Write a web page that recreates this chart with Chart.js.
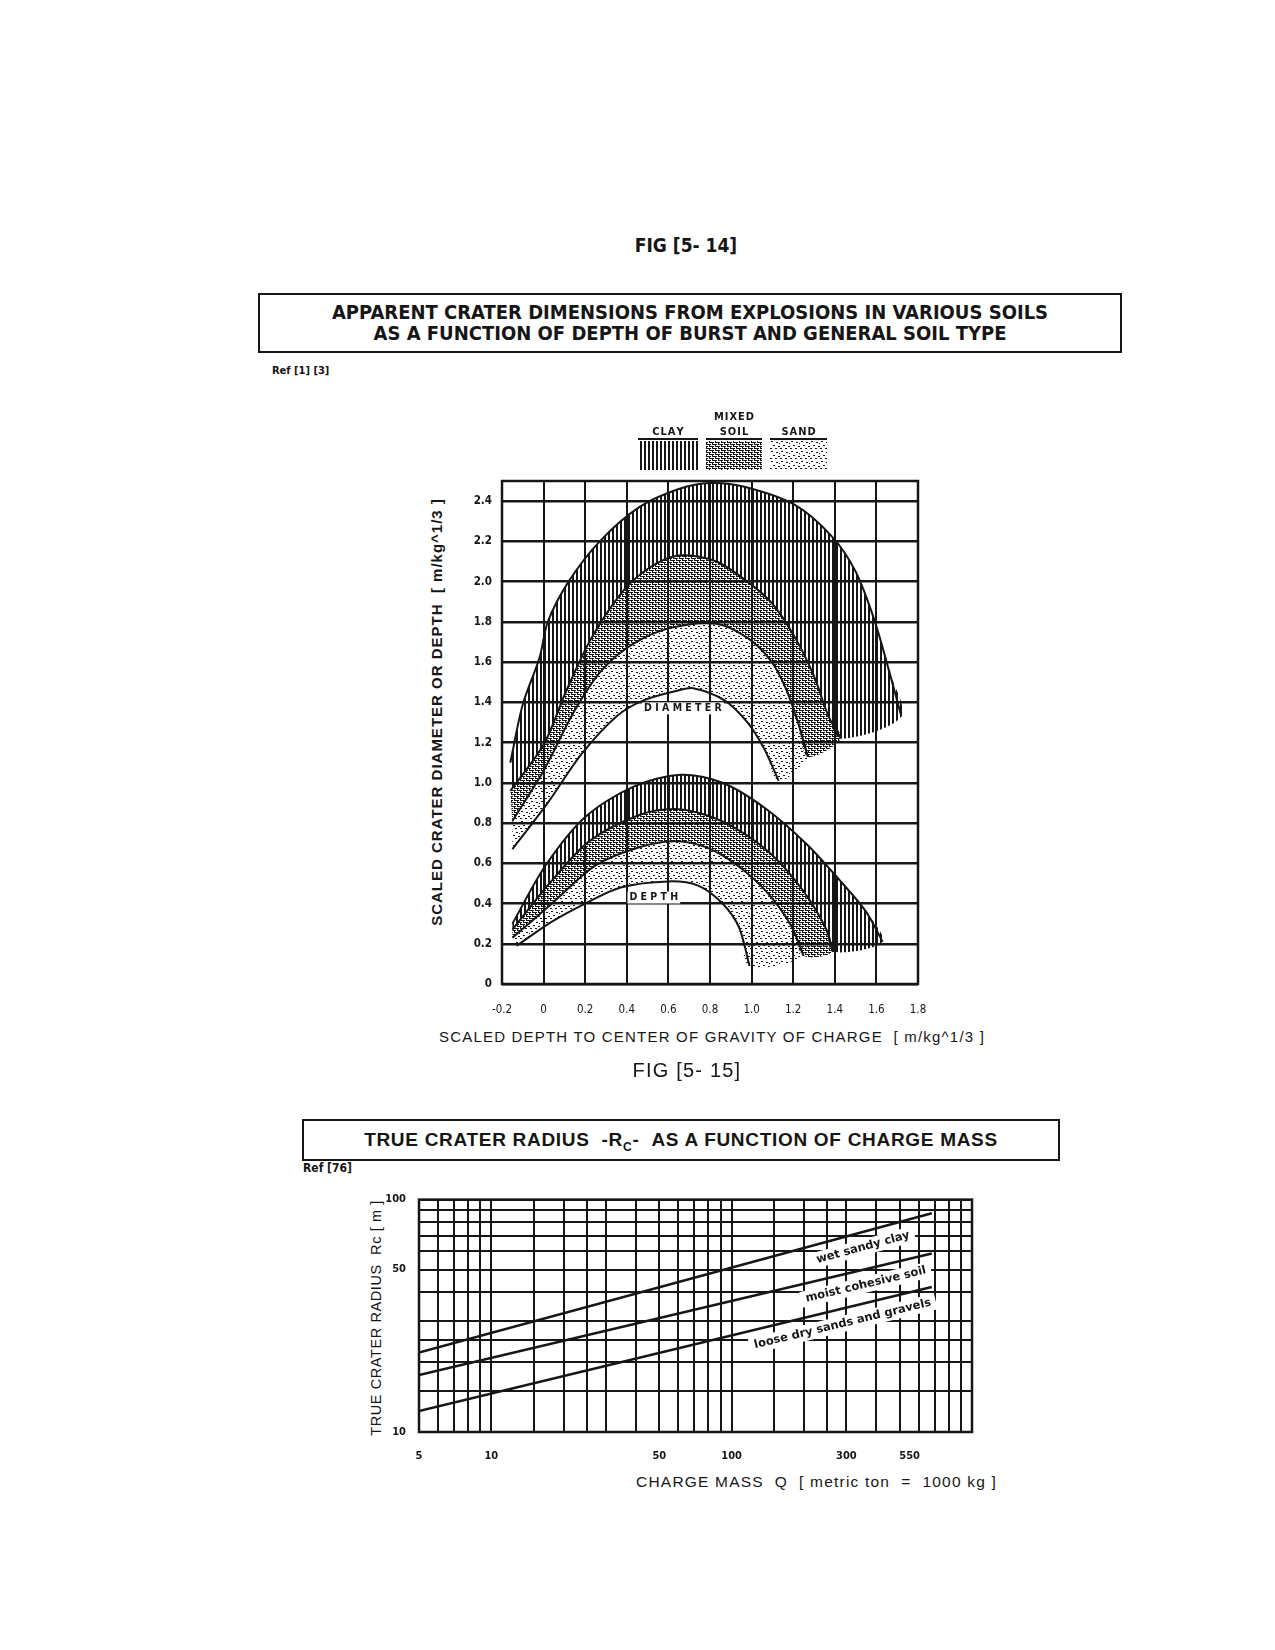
<!DOCTYPE html>
<html>
<head>
<meta charset="utf-8">
<script src="https://cdn.jsdelivr.net/npm/chart.js@4.4.1/dist/chart.umd.min.js"></script>
<style>
  body { margin: 0; background: #fff; }
  #page { position: relative; width: 1275px; height: 1650px; color: #161616;
          font-family: "Liberation Sans", Arial, sans-serif; }
  .abs { position: absolute; white-space: nowrap; }
  .narrow { font-family: "Liberation Sans Narrow", "DejaVu Sans Condensed", "Liberation Sans", sans-serif; }
  .box { border: 2px solid #161616; box-sizing: border-box; text-align: center; }
  .rot { transform: rotate(-90deg); text-align: center; }
  canvas { position: absolute; }
</style>
</head>
<body>
<div id="page">
  <div class="abs narrow" style="left:586px;width:200px;top:234px;text-align:center;font-weight:bold;font-size:19px">FIG [5- 14]</div>
  <div class="abs box narrow" style="left:258px;top:293px;width:864px;height:60px;padding-top:7px;font-weight:bold;font-size:20px;line-height:21px">
    APPARENT CRATER DIMENSIONS FROM EXPLOSIONS IN VARIOUS SOILS<br>AS A FUNCTION OF DEPTH OF BURST AND GENERAL SOIL TYPE
  </div>
  <div class="abs narrow" style="left:272px;top:364px;font-weight:bold;font-size:11px">Ref [1] [3]</div>

  <div class="abs rot" style="left:178px;top:702px;width:520px;height:20px;font-weight:bold;font-size:15px;letter-spacing:1px">SCALED CRATER DIAMETER OR DEPTH &nbsp;[ m/kg^1/3 ]</div>
  <div class="abs" style="left:412px;width:600px;top:1028px;text-align:center;font-size:15px;letter-spacing:1.2px">SCALED DEPTH TO CENTER OF GRAVITY OF CHARGE &nbsp;[ m/kg^1/3 ]</div>
  <canvas id="crater" width="580" height="690" style="left:380px;top:370px"></canvas>

  <div class="abs" style="left:587px;width:200px;top:1059px;text-align:center;font-size:20px;letter-spacing:1.2px">FIG [5- 15]</div>
  <div class="abs box" style="left:302px;top:1119px;width:758px;height:42px;padding-top:8px;font-weight:bold;font-size:19px;line-height:21px;letter-spacing:0.7px">
    TRUE CRATER RADIUS &nbsp;-R<sub style="font-size:12px">C</sub>- &nbsp;AS A FUNCTION OF CHARGE MASS
  </div>
  <div class="abs narrow" style="left:303px;top:1161px;font-weight:bold;font-size:12px">Ref [76]</div>

  <div class="abs rot" style="left:238px;top:1308px;width:280px;height:20px;font-size:14.5px;letter-spacing:0.6px">TRUE CRATER RADIUS &nbsp;Rc [ m ]</div>
  <div class="abs" style="left:537px;width:460px;top:1473px;text-align:right;font-size:15.5px;letter-spacing:1.2px">CHARGE MASS &nbsp;Q &nbsp;[ metric ton &nbsp;= &nbsp;1000 kg ]</div>
  <canvas id="radius" width="720" height="310" style="left:300px;top:1180px"></canvas>
</div>

<script>
// ===== crater charts: fig 5-14 (apparent crater) and fig 5-15 (true crater radius) =====
const $ = s => document.querySelector(s);
const INK = '#161616';
const NARROW = '"Liberation Sans Narrow", "DejaVu Sans Condensed", "Liberation Sans", sans-serif';

// ----- fig 5-14 : boundary curves, [scaled depth, scaled dimension] -----
// diameter family (upper arches)
const diaClayTop  = [[-0.16,1.10],[-0.10,1.39],[-0.02,1.62],[0.02,1.80],[0.12,2.00],[0.27,2.20],[0.46,2.37],[0.65,2.46],
                     [0.80,2.49],[0.97,2.47],[1.21,2.38],[1.39,2.22],[1.50,2.05],[1.59,1.81],[1.66,1.56],[1.72,1.33]];
const diaMixedTop = [[-0.16,0.96],[0.00,1.19],[0.11,1.46],[0.23,1.72],[0.38,1.95],[0.51,2.07],[0.65,2.13],[0.83,2.10],
                     [0.98,2.00],[1.10,1.89],[1.21,1.72],[1.30,1.53],[1.37,1.33],[1.43,1.22]];
const diaSandTop  = [[-0.15,0.81],[0.00,1.06],[0.15,1.36],[0.28,1.56],[0.43,1.69],[0.61,1.77],[0.83,1.79],[0.98,1.72],
                     [1.09,1.61],[1.16,1.48],[1.22,1.31],[1.27,1.13]];
const diaInner    = [[-0.15,0.67],[0.02,0.90],[0.18,1.14],[0.35,1.33],[0.48,1.41],[0.65,1.46],[0.72,1.47],[0.87,1.41],
                     [0.98,1.30],[1.06,1.17],[1.13,1.01]];
// depth family (lower arches)
const depClayTop  = [[-0.15,0.30],[0.01,0.59],[0.20,0.83],[0.43,0.98],[0.66,1.04],[0.86,1.00],[1.07,0.87],[1.27,0.69],
                     [1.42,0.52],[1.55,0.36],[1.63,0.21]];
const depMixedTop = [[-0.15,0.27],[0.02,0.49],[0.22,0.71],[0.46,0.84],[0.63,0.87],[0.78,0.84],[0.93,0.77],[1.10,0.64],
                     [1.25,0.46],[1.36,0.27],[1.39,0.16]];
const depSandTop  = [[-0.15,0.23],[0.04,0.40],[0.25,0.59],[0.46,0.68],[0.63,0.71],[0.78,0.68],[0.93,0.59],[1.07,0.46],
                     [1.19,0.29],[1.25,0.14]];
const depInner    = [[-0.13,0.19],[0.04,0.31],[0.20,0.40],[0.37,0.48],[0.60,0.51],[0.74,0.49],[0.86,0.40],[0.94,0.28],
                     [0.99,0.09]];
const soilKinds = ['CLAY', 'MIXED SOIL', 'SAND'];
const archTags  = [['DIAMETER', 0.67, 1.37], ['DEPTH', 0.53, 0.43]];

// ----- fig 5-15 : true crater radius vs charge mass (log-log) -----
const massGrid    = [5,6,7,8,9,10,15,20,25,30,40,50,60,70,80,90,100,150,200,250,300,400,500,600,700,800,900,1000];
const massLabels  = [5, 10, 50, 100, 300, 550];
const radiusGrid  = [10,15,20,25,30,40,50,60,70,80,90,100];
const radiusLabels = [10, 50, 100];
const soils     = ['wet sandy clay', 'moist cohesive soil', 'loose dry sands and gravels'];
const massEnds  = [5, 680];
const wetClay   = [22.0, 87.3];
const moistSoil = [17.6, 58.6];
const looseSand = [12.3, 42.1];
const tagMass   = [339, 350, 280];

// ---------- hatch patterns ----------
const ctx14 = $('#crater').getContext('2d');
function tile(w, h, paint){
  const c = document.createElement('canvas'); c.width = w; c.height = h;
  const g = c.getContext('2d'); g.fillStyle = INK; paint(g);
  return ctx14.createPattern(c, 'repeat');
}
const CLAY  = tile(4, 4, g => g.fillRect(0, 0, 2, 4));
// brick-like mesh
const MIXED = tile(6, 4, g => { g.fillRect(0, 0, 6, 1); g.fillRect(0, 2, 6, 1);
  g.fillRect(2, 1, 1, 1); g.fillRect(5, 3, 1, 1); g.clearRect(4, 0, 1, 1); g.clearRect(1, 2, 1, 1); });
const SAND  = tile(10, 10, g => [[1,1],[6,2],[3,5],[8,6],[0,8],[5,8],[9,3]].forEach(([x,y]) => g.fillRect(x, y, 2, 1)));
const FILLS = [CLAY, MIXED, SAND];

// ---------- small plugins ----------
const frame = { id: 'frame', afterDraw(c){
  const {ctx, chartArea: a} = c;
  ctx.save(); ctx.strokeStyle = INK; ctx.lineWidth = 2.5;
  ctx.strokeRect(a.left, a.top, a.right - a.left, a.bottom - a.top); ctx.restore();
}};

const soilKey = { id: 'soilKey', afterDraw(c){
  const {ctx, chartArea: a} = c;
  const boxes = [[136, 60], [204, 56], [268, 57]];
  ctx.save();
  soilKinds.forEach((name, i) => {
    const [dx, w] = boxes[i], x = a.left + dx, y = a.top - 40;
    ctx.fillStyle = FILLS[i]; ctx.fillRect(x, y, w, 29);
    ctx.fillStyle = INK; ctx.fillRect(x, y - 3, w, 2);
    ctx.font = 'bold 11px ' + NARROW; ctx.textAlign = 'center'; ctx.textBaseline = 'alphabetic';
    const words = name.split(' ');
    words.forEach((wd, k) => ctx.fillText(wd.split('').join(String.fromCharCode(8202)), x + w / 2, y - 6 - (words.length - 1 - k) * 15));
  });
  ctx.restore();
}};

const archLabels = { id: 'archLabels', afterDatasetsDraw(c){
  const {ctx, scales: {x, y}} = c;
  ctx.save(); ctx.font = 'bold 10.5px ' + NARROW; ctx.textAlign = 'center'; ctx.textBaseline = 'middle';
  archTags.forEach(([txt, vx, vy]) => {
    const s = txt.split('').join(' '), px = x.getPixelForValue(vx), py = y.getPixelForValue(vy);
    const w = ctx.measureText(s).width;
    ctx.fillStyle = '#fff'; ctx.fillRect(px - w / 2 - 2, py - 6, w + 4, 12);
    ctx.fillStyle = INK; ctx.fillText(s, px, py);
  });
  ctx.restore();
}};

const soilTags = { id: 'soilTags', afterDatasetsDraw(c){
  const {ctx, scales: {x, y}} = c;
  ctx.save(); ctx.font = 'bold 11.5px "DejaVu Sans", sans-serif'; ctx.textAlign = 'center'; ctx.textBaseline = 'middle';
  [wetClay, moistSoil, looseSand].forEach((r, i) => {
    const x0 = x.getPixelForValue(massEnds[0]), y0 = y.getPixelForValue(r[0]);
    const x1 = x.getPixelForValue(massEnds[1]), y1 = y.getPixelForValue(r[1]);
    const ang = Math.atan2(y1 - y0, x1 - x0);
    const px = x.getPixelForValue(tagMass[i]), py = y0 + (px - x0) / (x1 - x0) * (y1 - y0);
    const d = 15, cx = px - Math.sin(ang) * d, cy = py + Math.cos(ang) * d;
    const w = ctx.measureText(soils[i]).width;
    ctx.save(); ctx.translate(cx, cy); ctx.rotate(ang);
    ctx.fillStyle = '#fff'; ctx.fillRect(-w / 2 - 5, -8, w + 10, 16);
    ctx.fillStyle = INK; ctx.fillText(soils[i], 0, 0);
    ctx.restore();
  });
  ctx.restore();
}};

// ---------- fig 5-14 ----------
const pts = a => a.map(([x, y]) => ({x, y}));
const bands14 = [
  [diaClayTop, diaMixedTop, CLAY], [diaMixedTop, diaSandTop, MIXED], [diaSandTop, diaInner, SAND],
  [depClayTop, depMixedTop, CLAY], [depMixedTop, depSandTop, MIXED], [depSandTop, depInner, SAND],
];
const curves14 = [diaClayTop, diaMixedTop, diaSandTop, diaInner, depClayTop, depMixedTop, depSandTop, depInner];
const sets14 = bands14.map(([outer, inner, pat]) => ({
    data: pts(outer.concat(inner.slice().reverse())), fill: 'shape', backgroundColor: pat,
    borderWidth: 0, pointRadius: 0, tension: 0.3, order: 2 }))
  .concat(curves14.map(a => ({
    data: pts(a), fill: false, borderColor: INK, borderWidth: 2, pointRadius: 0, tension: 0.3, order: 1 })));

const fmt14 = v => Math.abs(v) < 1e-9 ? '0' : v.toFixed(1);

new Chart(ctx14, {
  type: 'line',
  data: { datasets: sets14 },
  options: {
    responsive: false, animation: false, events: [],
    layout: { padding: { left: 50, right: 42, top: 111, bottom: 14 } },
    plugins: { legend: { display: false }, tooltip: { enabled: false } },
    scales: {
      x: { type: 'linear', min: -0.2, max: 1.8, afterFit: s => { s.height = 62; },
           border: { display: false }, grid: { color: INK, lineWidth: 2, drawTicks: false },
           ticks: { stepSize: 0.2, padding: 19, color: INK, maxRotation: 0, autoSkip: false,
                    font: { family: NARROW, size: 11.5 }, callback: fmt14 } },
      y: { min: 0, max: 2.5, afterFit: s => { s.width = 72; },
           border: { display: false }, grid: { color: INK, lineWidth: 2.5, drawTicks: false },
           ticks: { stepSize: 0.2, includeBounds: false, padding: 10, color: INK,
                    font: { family: NARROW, size: 11.5, weight: 'bold' }, callback: fmt14 } }
    }
  },
  plugins: [frame, soilKey, archLabels]
});

// ---------- fig 5-15 ----------
const logTicks = (vals, extra) => s => {
  s.ticks = [...new Set(vals.concat(extra))].sort((a, b) => a - b).map(value => ({ value }));
};
new Chart($('#radius'), {
  type: 'line',
  data: { datasets: [wetClay, moistSoil, looseSand].map((r, i) => ({
    label: soils[i], data: massEnds.map((q, j) => ({ x: q, y: r[j] })),
    borderColor: INK, borderWidth: 2.5, pointRadius: 0, fill: false })) },
  options: {
    responsive: false, animation: false, events: [],
    layout: { padding: { left: 59, right: 48, top: 15, bottom: 28 } },
    plugins: { legend: { display: false }, tooltip: { enabled: false } },
    scales: {
      x: { type: 'logarithmic', min: 5, max: 1000, afterFit: s => { s.height = 30; },
           afterBuildTicks: logTicks(massGrid, massLabels), border: { display: false },
           grid: { lineWidth: 2, drawTicks: false,
                   color: c => massGrid.includes(c.tick && c.tick.value) ? INK : 'rgba(0,0,0,0)' },
           ticks: { autoSkip: false, maxRotation: 0, padding: 18, color: INK,
                    font: { family: NARROW, size: 11, weight: 'bold' },
                    callback: v => massLabels.includes(v) ? String(v) : '' } },
      y: { type: 'logarithmic', min: 10, max: 100, afterFit: s => { s.width = 60; },
           afterBuildTicks: logTicks(radiusGrid, radiusLabels), border: { display: false },
           grid: { color: INK, lineWidth: 2, drawTicks: false },
           ticks: { autoSkip: false, padding: 13, color: INK,
                    font: { family: NARROW, size: 11, weight: 'bold' },
                    callback: v => radiusLabels.includes(v) ? String(v) : '' } }
    }
  },
  plugins: [frame, soilTags]
});
</script>
</body>
</html>
